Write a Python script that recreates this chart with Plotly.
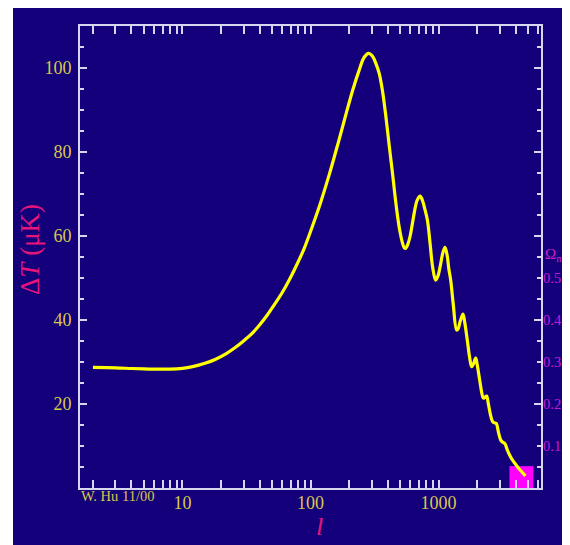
import plotly.graph_objects as go

# Multipole l and temperature anisotropy (muK)
ell = [2, 3, 4, 5, 6, 8, 10, 12, 15, 18, 22, 26, 30, 35, 40, 46, 51, 60, 70, 80, 90, 104, 120,
       141, 165, 190, 215, 240, 262, 284, 305, 325, 344, 365, 388, 412, 437, 458, 479, 500, 520,
       540, 555, 575, 600, 625, 646, 680, 718, 750, 780, 818, 860, 900, 949, 990, 1030, 1080,
       1122, 1165, 1205, 1244, 1300, 1384, 1420, 1480, 1552, 1600, 1680, 1750, 1813, 1870, 1949,
       2000, 2100, 2180, 2234, 2300, 2372, 2450, 2540, 2642, 2730, 2820, 2940, 3063, 3170, 3290,
       3430, 3578, 3750, 3939, 4300, 4766]
delta_t = [28.7, 28.6, 28.45, 28.35, 28.3, 28.3, 28.5, 28.9, 29.7, 30.6, 32.0, 33.5, 35.0, 36.8,
           38.8, 41.2, 43.2, 46.5, 50.2, 53.8, 57.3, 62.5, 68.0, 74.9, 82.3, 89.2, 95.0, 99.5,
           102.5, 103.5, 102.8, 101.0, 98.7, 94.5, 88.4, 81.5, 74.9, 69.3, 64.6, 61.0, 58.6, 57.2,
           57.1, 58.0, 60.0, 63.0, 65.5, 68.5, 69.5, 68.4, 66.5, 63.8, 58.0, 52.5, 49.5, 50.5,
           52.8, 56.0, 57.3, 55.5, 52.0, 49.5, 44.0, 37.6, 37.9, 39.8, 41.4, 39.5, 35.0, 31.0,
           28.9, 29.5, 30.9, 29.5, 25.5, 22.5, 21.4, 21.6, 21.9, 20.0, 17.5, 15.8, 15.5, 15.4,
           13.2, 11.4, 10.9, 10.6, 9.2, 7.9, 6.8, 5.9, 4.4, 2.9]

# Magenta marker box (data units)
box_ell = [3580, 5500, 5500, 3580, 3580]
box_dt = [0, 0, 5.2, 5.2, 0]

# Tick values
y_major = [20, 40, 60, 80, 100]
y_minor = [5, 10, 15, 25, 30, 35, 45, 50, 55, 65, 70, 75, 85, 90, 95, 105]
x_major = [10, 100, 1000]
x_major_text = ["10", "100", "1000"]
x_minor = [2, 3, 4, 5, 6, 7, 8, 9, 20, 30, 40, 50, 60, 70, 80, 90,
           200, 300, 400, 500, 600, 700, 800, 900, 2000, 3000, 4000, 5000, 6000]
omega_ticks = [0.1, 0.2, 0.3, 0.4, 0.5]
omega_text = ["0.1", "0.2", "0.3", "0.4", "0.5"]

BG = "#14007a"
FRAME = "#d6d6ee"
YEL = "#d8c84a"
PINK = "#e6157a"
MAG = "#c41ed4"
SERIF = "Liberation Serif"

fig = go.Figure()
fig.add_trace(go.Scatter(x=box_ell, y=box_dt, fill="toself", fillcolor="#ff00ff",
                         line=dict(width=0, color="#ff00ff"), mode="lines",
                         hoverinfo="skip", showlegend=False))
fig.add_trace(go.Scatter(x=ell, y=delta_t, mode="lines",
                         line=dict(color="#ffff00", width=3.2, shape="spline", smoothing=1.0),
                         showlegend=False))
# invisible trace for right axis
fig.add_trace(go.Scatter(x=[10], y=[0.5], yaxis="y2", mode="markers",
                         marker=dict(opacity=0), showlegend=False, hoverinfo="skip"))

OFF = 8  # page body margin
W, H = 562, 537
L, T = 80 - OFF, 26 - OFF
R = W - (541 - OFF)
B = H - (488 - OFF)
pw, ph = W - L - R, H - T - B


def px(xp):
    return (xp - OFF - L) / pw


def py(yp):
    return (488 - yp) / ph


fig.update_layout(
    width=W, height=H,
    margin=dict(l=L, r=R, t=T, b=B, autoexpand=False),
    paper_bgcolor="white",
    plot_bgcolor=BG,
    font=dict(family=SERIF),
    xaxis=dict(type="log", range=[0.2, 3.8], tickmode="array", tickvals=x_major,
               ticktext=x_major_text, ticks="inside", ticklen=8, tickwidth=1.5,
               tickcolor=FRAME, showline=True, linecolor=FRAME, linewidth=2,
               mirror="allticks", showgrid=False, zeroline=False, automargin=False,
               tickfont=dict(color=YEL, size=18, family=SERIF), ticklabelstandoff=-3,
               minor=dict(tickmode="array", tickvals=x_minor, ticks="inside", ticklen=4,
                          tickwidth=1.5, tickcolor=FRAME, showgrid=False)),
    yaxis=dict(range=[0, 110], tickmode="array", tickvals=y_major, ticks="inside",
               ticklen=7, tickwidth=1.5, tickcolor=FRAME, showline=True, linecolor=FRAME,
               linewidth=2, mirror="allticks", showgrid=False, zeroline=False,
               automargin=False,
               tickfont=dict(color=YEL, size=18, family=SERIF), ticklabelstandoff=3,
               minor=dict(tickmode="array", tickvals=y_minor, ticks="inside", ticklen=4,
                          tickwidth=1.5, tickcolor=FRAME, showgrid=False)),
    yaxis2=dict(overlaying="y", side="right", range=[0, 1.1], tickmode="array",
                tickvals=omega_ticks, ticktext=omega_text, ticks="", showline=False,
                showgrid=False, zeroline=False, ticklabelstandoff=1, automargin=False,
                tickfont=dict(color=MAG, size=14.5, family=SERIF)),
    shapes=[dict(type="rect", xref="paper", yref="paper", layer="below",
                 x0=px(13), x1=(W - L + 5) / pw,
                 y0=-(B + 5) / ph, y1=1 + (T + 5) / ph,
                 fillcolor=BG, line=dict(width=0))],
    annotations=[
        dict(text="Δ<i>T</i> (μK)", xref="paper", yref="paper", x=px(30),
             y=py(250), xanchor="center", yanchor="middle", textangle=-90,
             showarrow=False, font=dict(color=PINK, size=27, family=SERIF)),
        dict(text="<i>l</i>", xref="paper", yref="paper", x=px(319),
             y=py(526), xanchor="center", yanchor="middle", showarrow=False,
             font=dict(color=PINK, size=26, family=SERIF)),
        dict(text="W. Hu 11/00", xref="paper", yref="paper", x=px(79), xanchor="left",
             y=py(496), yanchor="middle", showarrow=False,
             font=dict(color=YEL, size=14.5, family=SERIF)),
        dict(text="Ω<sub>m</sub>", xref="paper", yref="paper", x=px(543),
             xanchor="left", y=py(255), yanchor="middle", showarrow=False,
             font=dict(color="#d01ec8", size=15, family=SERIF)),
    ],
)

fig.write_html("out.html")
